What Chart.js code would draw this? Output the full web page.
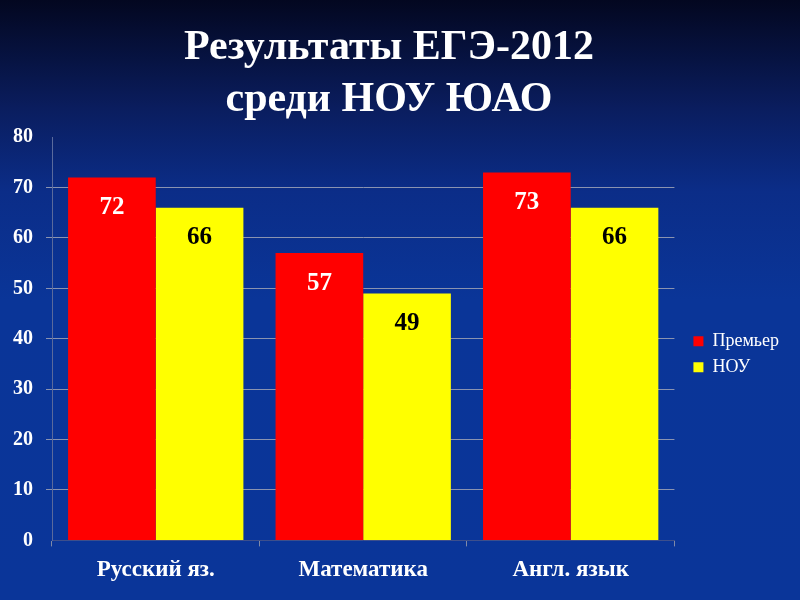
<!DOCTYPE html>
<html>
<head>
  <meta charset="UTF-8" />
  <title>Результаты ЕГЭ-2012</title>
  <script src="https://cdn.jsdelivr.net/npm/chart.js"></script>
  <style>
    html, body {
      margin: 0; padding: 0;
      width: 800px; height: 600px;
      overflow: hidden;
    }
    body {
      background: linear-gradient(to bottom, #030720 0%, #0a1d5e 18%, #0b2d88 32%, #0a3598 50%, #0a3599 100%);
    }
    .chart-container {
      position: relative;
      width: 800px;
      height: 600px;
    }
  </style>
</head>
<body>
  <div class="chart-container">
    <canvas id="egeChart"></canvas>
  </div>
  <script>
    const subjects = ['Русский яз.', 'Математика', 'Англ. язык'];
    const premierScores = [72, 57, 73];
    const nouScores = [66, 49, 66];
    const titleLines = ['Результаты ЕГЭ-2012', 'среди НОУ ЮАО'];

    // value labels inside the top of each bar
    const barLabels = {
      id: 'barLabels',
      afterDatasetsDraw(chart) {
        const ctx = chart.ctx;
        ctx.save();
        ctx.font = 'bold 25px "Liberation Serif", serif';
        ctx.textAlign = 'center';
        ctx.textBaseline = 'middle';
        chart.data.datasets.forEach((ds, i) => {
          ctx.fillStyle = i === 0 ? '#ffffff' : '#000000';
          chart.getDatasetMeta(i).data.forEach((bar, j) => {
            ctx.fillText(ds.data[j], bar.x, bar.y + 30);
          });
        });
        ctx.restore();
      }
    };

    // nudge the legend a little to the right of the plot
    const legendShift = {
      id: 'legendShift',
      afterLayout(chart) {
        if (chart.legend) {
          chart.legend.left += 11;
          chart.legend.right += 11;
        }
      }
    };

    const ctx = document.getElementById('egeChart').getContext('2d');
    new Chart(ctx, {
      type: 'bar',
      data: {
        labels: subjects,
        datasets: [
          { label: 'Премьер', data: premierScores, backgroundColor: '#ff0000' },
          { label: 'НОУ', data: nouScores, backgroundColor: '#ffff00' }
        ]
      },
      options: {
        responsive: true,
        maintainAspectRatio: false,
        animation: false,
        datasets: {
          bar: { categoryPercentage: 0.845, barPercentage: 1.0 }
        },
        layout: { padding: { left: 0, right: 22, top: 10, bottom: 6 } },
        plugins: {
          title: {
            display: true,
            text: titleLines,
            color: '#ffffff',
            font: { family: '"Liberation Serif", serif', size: 42, weight: 'bold', lineHeight: 1.24 },
            padding: { top: 12, bottom: 11 }
          },
          legend: {
            position: 'right',
            title: { display: true, text: ' ', padding: { top: 90, bottom: 0 } },
            labels: {
              color: '#ffffff',
              boxWidth: 10,
              boxHeight: 10,
              padding: 8,
              font: { family: '"Liberation Serif", serif', size: 18 }
            }
          },
          tooltip: { enabled: false }
        },
        scales: {
          x: {
            grid: {
              display: true,
              drawOnChartArea: false,
              color: '#7f8aa8',
              tickLength: 6
            },
            border: { color: '#3d4f8c' },
            ticks: {
              color: '#ffffff',
              padding: 10,
              font: { family: '"Liberation Serif", serif', size: 23, weight: 'bold' }
            }
          },
          y: {
            min: 0,
            max: 80,
            ticks: {
              stepSize: 10,
              color: '#ffffff',
              padding: 13,
              font: { family: '"Liberation Serif", serif', size: 20, weight: 'bold' }
            },
            grid: {
              color: ctx => (ctx.tick && (ctx.tick.value === 0 || ctx.tick.value === 80)) ? 'rgba(0,0,0,0)' : '#8a93b0',
              tickLength: 6
            },
            border: { color: '#5a6a9c' }
          }
        }
      },
      plugins: [barLabels, legendShift]
    });
  </script>
</body>
</html>
